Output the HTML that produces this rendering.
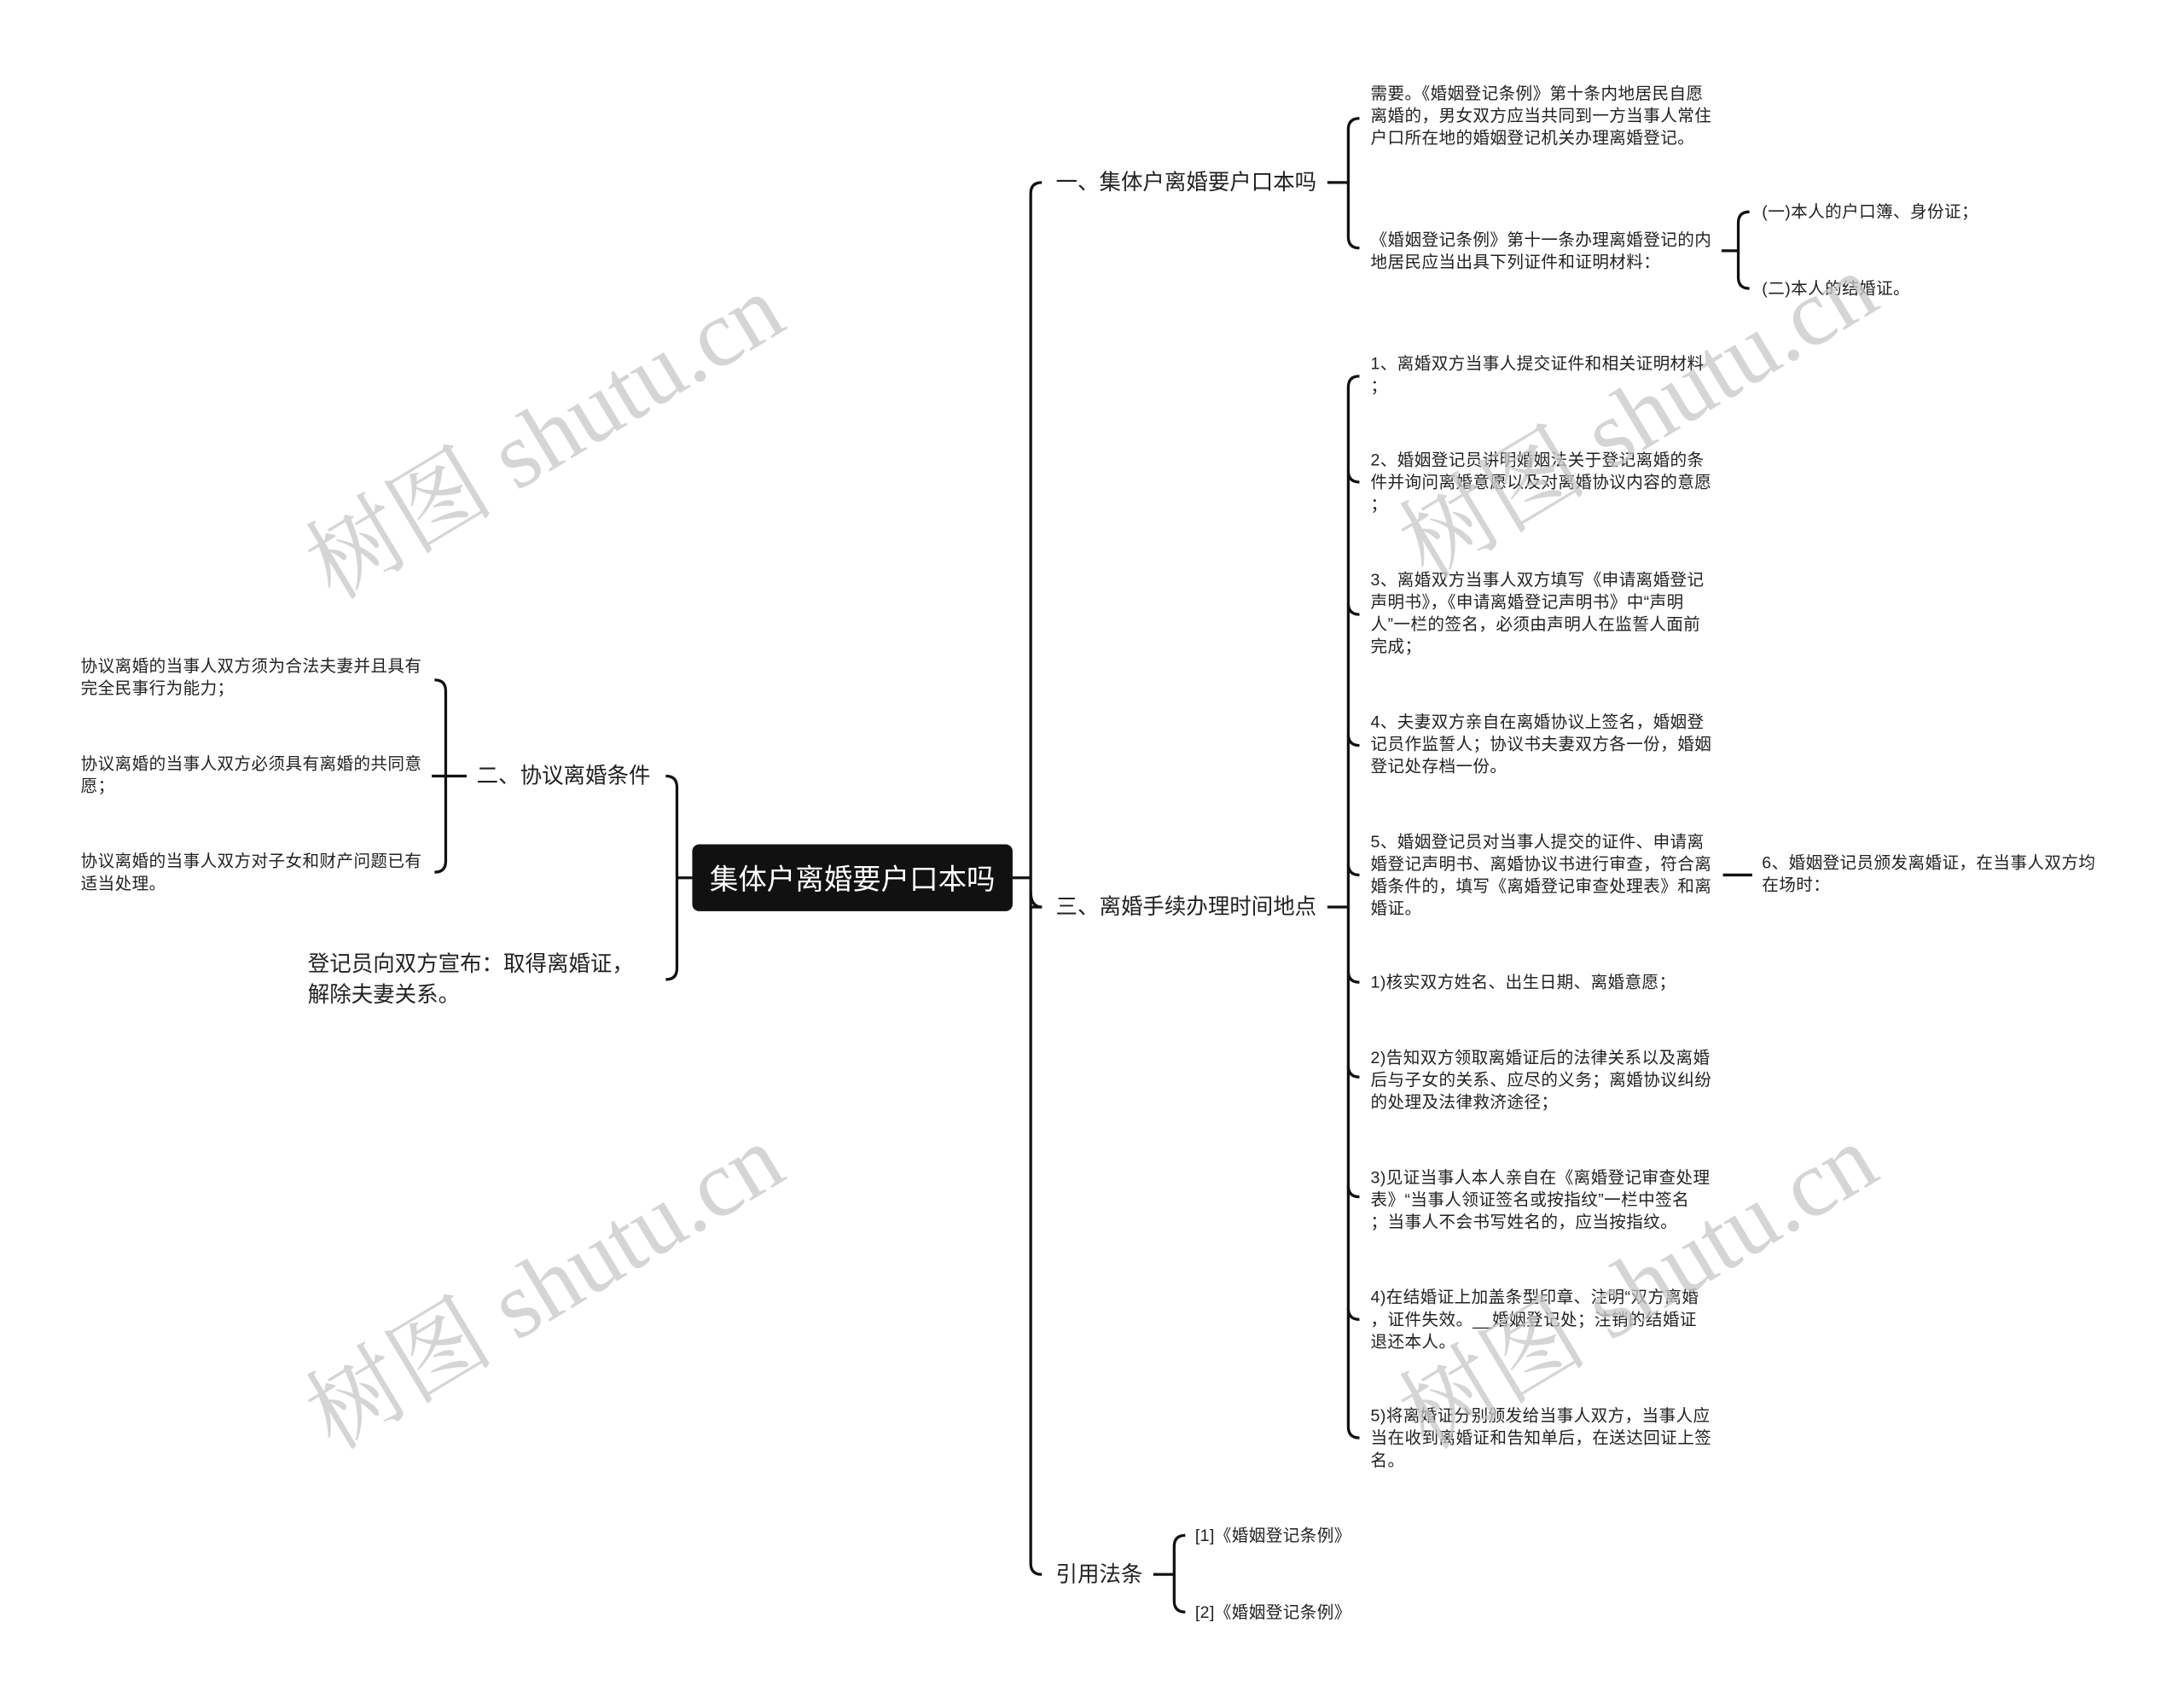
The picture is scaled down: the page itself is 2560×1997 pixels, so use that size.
<!DOCTYPE html>
<html><head><meta charset="utf-8"><style>
html,body{margin:0;padding:0;background:#fff;}
svg{display:block;}
text{font-family:"Liberation Sans","Noto Sans CJK SC",sans-serif;fill:#222;}
.s{font-size:12px;letter-spacing:0.25px;}
.m{font-size:15.6px;}
.w{font-family:"Liberation Serif","Noto Serif CJK SC",serif;font-size:68px;fill:#c8c8c8;opacity:0.75;}
</style></head><body>
<svg width="2560" height="1997" viewBox="0 0 1568 1223" preserveAspectRatio="none" xmlns="http://www.w3.org/2000/svg">
<g fill="none" stroke="#111" stroke-width="2">
<path d="M727 630 H740"/>
<path d="M748 131 Q740 131 740 139 V1122 Q740 1130 748 1130"/>
<path d="M740 651 H748"/>
<path d="M740 640 Q740 651 748 651"/>
<path d="M497 630 H486"/>
<path d="M478 557 Q486 557 486 565 V695 Q486 703 478 703"/>
<path d="M953 131 H968"/>
<path d="M976 85 Q968 85 968 93 V170 Q968 178 976 178"/>
<path d="M1236 180 H1248"/>
<path d="M1256 152 Q1248 152 1248 160 V199 Q1248 207 1256 207"/>
<path d="M953 651 H968"/>
<path d="M976 270 Q968 270 968 278 V1024 Q968 1032 976 1032"/>
<path d="M968 338 Q968 346 976 346"/>
<path d="M968 433 Q968 441 976 441"/>
<path d="M968 527 Q968 535 976 535"/>
<path d="M968 620 Q968 628 976 628"/>
<path d="M968 697 Q968 705 976 705"/>
<path d="M968 765 Q968 773 976 773"/>
<path d="M968 851 Q968 859 976 859"/>
<path d="M968 939 Q968 947 976 947"/>
<path d="M1237 628 H1258"/>
<path d="M828 1130 H843"/>
<path d="M851 1102 Q843 1102 843 1110 V1149 Q843 1157 851 1157"/>
<path d="M335 557 H320"/>
<path d="M312 488 Q320 488 320 496 V618 Q320 626 312 626"/>
<path d="M320 557 H310"/>
</g>
<rect x="497" y="606" width="230" height="48" rx="5" fill="#111"/>
<text x="612" y="638" font-size="20.5" text-anchor="middle" style="fill:#fff">集体户离婚要户口本吗</text>

<text class="m" x="758" y="136">一、集体户离婚要户口本吗</text>
<text class="m" x="758" y="656">三、离婚手续办理时间地点</text>
<text class="m" x="758" y="1135">引用法条</text>
<text class="m" x="467" y="562" text-anchor="end">二、协议离婚条件</text>
<text class="m" x="221" y="697">登记员向双方宣布：取得离婚证，</text>
<text class="m" x="221" y="719">解除夫妻关系。</text>

<g>
<text class="s" x="984" y="71">需要。《婚姻登记条例》第十条内地居民自愿</text>
<text class="s" x="984" y="87">离婚的，男女双方应当共同到一方当事人常住</text>
<text class="s" x="984" y="103">户口所在地的婚姻登记机关办理离婚登记。</text>
<text class="s" x="984" y="176">《婚姻登记条例》第十一条办理离婚登记的内</text>
<text class="s" x="984" y="192">地居民应当出具下列证件和证明材料：</text>
<text class="s" x="1265" y="156">(一)本人的户口簿、身份证；</text>
<text class="s" x="1265" y="211">(二)本人的结婚证。</text>

<text class="s" x="984" y="265">1、离婚双方当事人提交证件和相关证明材料</text>
<text class="s" x="984" y="281">；</text>
<text class="s" x="984" y="334">2、婚姻登记员讲明婚姻法关于登记离婚的条</text>
<text class="s" x="984" y="350">件并询问离婚意愿以及对离婚协议内容的意愿</text>
<text class="s" x="984" y="366">；</text>
<text class="s" x="984" y="420">3、离婚双方当事人双方填写《申请离婚登记</text>
<text class="s" x="984" y="436">声明书》，《申请离婚登记声明书》中“声明</text>
<text class="s" x="984" y="452">人”一栏的签名，必须由声明人在监誓人面前</text>
<text class="s" x="984" y="468">完成；</text>
<text class="s" x="984" y="522">4、夫妻双方亲自在离婚协议上签名，婚姻登</text>
<text class="s" x="984" y="538">记员作监誓人；协议书夫妻双方各一份，婚姻</text>
<text class="s" x="984" y="554">登记处存档一份。</text>
<text class="s" x="984" y="608">5、婚姻登记员对当事人提交的证件、申请离</text>
<text class="s" x="984" y="624">婚登记声明书、离婚协议书进行审查，符合离</text>
<text class="s" x="984" y="640">婚条件的，填写《离婚登记审查处理表》和离</text>
<text class="s" x="984" y="656">婚证。</text>
<text class="s" x="1265" y="623">6、婚姻登记员颁发离婚证，在当事人双方均</text>
<text class="s" x="1265" y="639">在场时：</text>
<text class="s" x="984" y="709">1)核实双方姓名、出生日期、离婚意愿；</text>
<text class="s" x="984" y="763">2)告知双方领取离婚证后的法律关系以及离婚</text>
<text class="s" x="984" y="779">后与子女的关系、应尽的义务；离婚协议纠纷</text>
<text class="s" x="984" y="795">的处理及法律救济途径；</text>
<text class="s" x="984" y="849">3)见证当事人本人亲自在《离婚登记审查处理</text>
<text class="s" x="984" y="865">表》“当事人领证签名或按指纹”一栏中签名</text>
<text class="s" x="984" y="881">；当事人不会书写姓名的，应当按指纹。</text>
<text class="s" x="984" y="935">4)在结婚证上加盖条型印章、注明“双方离婚</text>
<text class="s" x="984" y="951">，证件失效。__婚姻登记处；注销的结婚证</text>
<text class="s" x="984" y="967">退还本人。</text>
<text class="s" x="984" y="1020">5)将离婚证分别颁发给当事人双方，当事人应</text>
<text class="s" x="984" y="1036">当在收到离婚证和告知单后，在送达回证上签</text>
<text class="s" x="984" y="1052">名。</text>
<text class="s" x="858" y="1106">[1]《婚姻登记条例》</text>
<text class="s" x="858" y="1161">[2]《婚姻登记条例》</text>

<text class="s" x="58" y="482">协议离婚的当事人双方须为合法夫妻并且具有</text>
<text class="s" x="58" y="498">完全民事行为能力；</text>
<text class="s" x="58" y="552">协议离婚的当事人双方必须具有离婚的共同意</text>
<text class="s" x="58" y="568">愿；</text>
<text class="s" x="58" y="622">协议离婚的当事人双方对子女和财产问题已有</text>
<text class="s" x="58" y="638">适当处理。</text>
</g>

<text class="w" transform="translate(395,320) rotate(-31)" text-anchor="middle" dominant-baseline="middle">树图 shutu.cn</text>
<text class="w" transform="translate(1180,305) rotate(-31)" text-anchor="middle" dominant-baseline="middle">树图 shutu.cn</text>
<text class="w" transform="translate(395,930) rotate(-31)" text-anchor="middle" dominant-baseline="middle">树图 shutu.cn</text>
<text class="w" transform="translate(1180,930) rotate(-31)" text-anchor="middle" dominant-baseline="middle">树图 shutu.cn</text>
</svg>
</body></html>
